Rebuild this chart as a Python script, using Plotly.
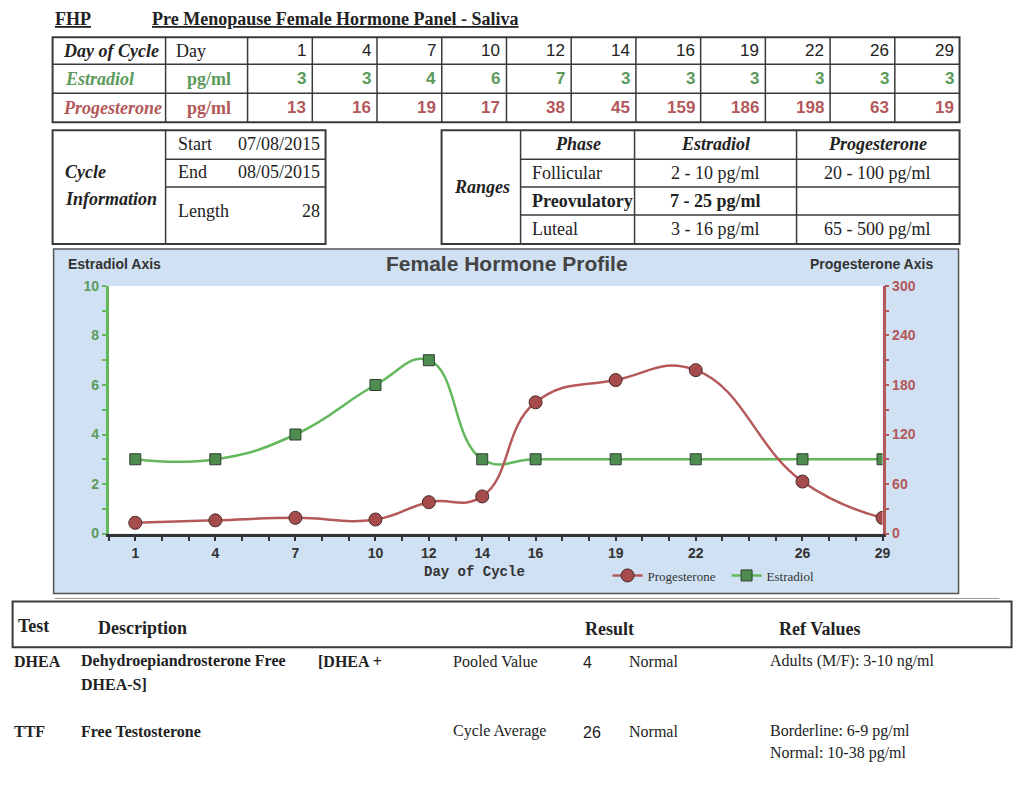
import plotly.graph_objects as go

# ---------------- data ----------------
days = [1, 4, 7, 10, 12, 14, 16, 19, 22, 26, 29]
estradiol = [3, 3, 4, 6, 7, 3, 3, 3, 3, 3, 3]
progesterone = [13, 16, 19, 17, 38, 45, 159, 186, 198, 63, 19]

cycle_start = "07/08/2015"
cycle_end = "08/05/2015"
cycle_length = 28

phases = ["Follicular", "Preovulatory", "Luteal"]
estradiol_ranges = ["2 - 10 pg/ml", "7 - 25 pg/ml", "3 - 16 pg/ml"]
progesterone_ranges = ["20 - 100 pg/ml", "", "65 - 500 pg/ml"]

test_codes = ["DHEA", "TTF"]
test_desc = ["Dehydroepiandrosterone Free", "Free Testosterone"]
test_method = ["Pooled Value", "Cycle Average"]
test_result = ["4", "26"]
test_status = ["Normal", "Normal"]
test_refs = [["Adults (M/F): 3-10 ng/ml"], ["Borderline: 6-9 pg/ml", "Normal: 10-38 pg/ml"]]

# ---------------- styles ----------------
W, H = 1024, 800
SERIF = "Liberation Serif"
SANS = "Liberation Sans"
MONO = "Liberation Mono"
GREEN_TXT = "#5b9a5b"
RED_TXT = "#b3585a"
GREEN_LINE = "#62b85a"
RED_LINE = "#b5585a"
GRID = "#3a3a3a"
PANEL = "#cfe1f2"

# layout positions are given in target-picture pixels; these factors map them to page pixels
AX, BX = 1024 / 1032, 0.4
AY, BY = 800 / 815, 6.6


def X(px):
    return ((px - BX) / AX) / W


def Y(py):
    return 1 - ((py - BY) / AY) / H


shapes = []
annotations = []


def hline(x0, x1, y, color=GRID, width=1.5):
    shapes.append(dict(type="line", xref="paper", yref="paper", x0=X(x0), x1=X(x1),
                       y0=Y(y), y1=Y(y), line=dict(color=color, width=width)))


def vline(x, y0, y1, color=GRID, width=1.5):
    shapes.append(dict(type="line", xref="paper", yref="paper", x0=X(x), x1=X(x),
                       y0=Y(y0), y1=Y(y1), line=dict(color=color, width=width)))


def rect(x0, y0, x1, y1, color=GRID, width=1.5, fill=None, layer="above"):
    d = dict(type="rect", xref="paper", yref="paper", x0=X(x0), x1=X(x1),
             y0=Y(y0), y1=Y(y1), line=dict(color=color, width=width), layer=layer)
    if fill:
        d["fillcolor"] = fill
    shapes.append(d)


def text(s, x, y, anchor="left", size=18, family=SERIF, color="#222", valign="middle"):
    annotations.append(dict(text=s, x=X(x), y=Y(y), xref="paper", yref="paper",
                            xanchor=anchor, yanchor=valign, showarrow=False,
                            font=dict(family=family, size=size, color=color)))


# ---------------- title ----------------
text("<b><u>FHP</u></b>", 53, 18, size=18)
text("<b><u>Pre Menopause Female Hormone Panel - Saliva</u></b>", 150, 18, size=18)

# ---------------- table 1 ----------------
t1_x0, t1_x1 = 53, 960
t1_rows = [36, 63, 92, 121]
col_w = (960 - 248) / len(days)
rect(t1_x0, t1_rows[0], t1_x1, t1_rows[-1], width=2)
for r in t1_rows[1:-1]:
    hline(t1_x0, t1_x1, r)
vline(166, t1_rows[0], t1_rows[-1])
vline(248, t1_rows[0], t1_rows[-1])
for k in range(1, len(days)):
    vline(248 + col_w * k, t1_rows[0], t1_rows[-1])

rc = [(t1_rows[i] + t1_rows[i + 1]) / 2 for i in range(3)]
text("<b><i>Day of Cycle</i></b>", 111, rc[0], anchor="center")
text("Day", 174, rc[0])
text("<b><i>Estradiol</i></b>", 63, rc[1], color=GREEN_TXT)
text("<b>pg/ml</b>", 209, rc[1], anchor="center", color=GREEN_TXT)
text("<b><i>Progesterone</i></b>", 61, rc[2], color=RED_TXT)
text("<b>pg/ml</b>", 209, rc[2], anchor="center", color=RED_TXT)
for k, d in enumerate(days):
    xr = 248 + col_w * (k + 1) - 4
    text(str(d), xr, rc[0], anchor="right", size=17, family=SANS, color="#222")
    text("<b>%d</b>" % estradiol[k], xr, rc[1], anchor="right", size=17, family=SANS, color=GREEN_TXT)
    text("<b>%d</b>" % progesterone[k], xr, rc[2], anchor="right", size=17, family=SANS, color=RED_TXT)

# ---------------- cycle info ----------------
rect(53, 129, 326, 243, width=2)
vline(166, 129, 243)
hline(166, 326, 158)
hline(166, 326, 186)
text("<b><i>Cycle</i></b>", 63, 171)
text("<b><i>Information</i></b>", 63, 198)
text("Start", 176, 143)
text(cycle_start, 322, 143, anchor="right")
text("End", 176, 171)
text(cycle_end, 322, 171, anchor="right")
text("Length", 176, 210)
text(str(cycle_length), 322, 210, anchor="right")

# ---------------- ranges ----------------
rect(442, 129, 960, 243, width=2)
vline(521, 129, 243)
vline(635, 129, 243)
vline(797, 129, 243)
for r in [158, 186, 214]:
    hline(521, 960, r)
text("<b><i>Ranges</i></b>", 482, 186, anchor="center")
text("<b><i>Phase</i></b>", 578, 143, anchor="center")
text("<b><i>Estradiol</i></b>", 716, 143, anchor="center")
text("<b><i>Progesterone</i></b>", 878, 143, anchor="center")
for i, ph in enumerate(phases):
    yy = 172 + 28 * i
    b0, b1 = ("<b>", "</b>") if ph == "Preovulatory" else ("", "")
    text(b0 + ph + b1, 530, yy)
    text(b0 + estradiol_ranges[i] + b1, 716, yy, anchor="center")
    if progesterone_ranges[i]:
        text(b0 + progesterone_ranges[i] + b1, 878, yy, anchor="center")

# ---------------- chart panel ----------------
rect(54, 248, 959, 593, color="#555", width=1.5, fill=PANEL, layer="below")
rect(109, 285, 883, 533, color="rgba(0,0,0,0)", width=0, fill="white", layer="below")
text("<b>Female Hormone Profile</b>", 507, 263, anchor="center", size=21, family=SANS, color="#444")
text("<b>Estradiol Axis</b>", 66, 263, size=14, family=SANS, color="#333")
text("<b>Progesterone Axis</b>", 935, 263, anchor="right", size=14, family=SANS, color="#333")
text("<b>Day of Cycle</b>", 475, 572, anchor="center", size=14, family=MONO, color="#333")

# ---------------- bottom results ----------------
hline(55, 1000, 598, color="#999", width=1)
rect(13, 601, 1012, 647, width=2)
text("<b>Test</b>", 16, 626, size=18)
text("<b>Description</b>", 96, 628, size=18)
text("<b>Result</b>", 583, 629, size=18)
text("<b>Ref Values</b>", 777, 629, size=18)

row_y = [661, 731]
for i, code in enumerate(test_codes):
    yy = row_y[i]
    text("<b>" + code + "</b>", 12, yy, size=16)
    text("<b>" + test_desc[i] + "</b>", 79, yy, size=16)
    text(test_method[i], 451, yy, size=16)
    text(test_result[i], 581, yy + 1, size=16, family=SANS)
    text(test_status[i], 627, yy, size=16)
    for j, ref in enumerate(test_refs[i]):
        text(ref, 768, yy + 22 * j, size=16)
text("<b>[DHEA +</b>", 316, 661, size=16)
text("<b>DHEA-S]</b>", 79, 684, size=16)

# ---------------- traces ----------------
fig = go.Figure()
fig.add_trace(go.Scatter(
    x=days, y=estradiol, name="Estradiol", mode="lines+markers",
    line=dict(color=GREEN_LINE, width=2.5, shape="spline", smoothing=1.3),
    marker=dict(symbol="square", size=11, color="#4f8c4f", line=dict(color="#2f3f2f", width=1)),
    legendrank=2, xaxis="x", yaxis="y"))
fig.add_trace(go.Scatter(
    x=days, y=progesterone, name="Progesterone", mode="lines+markers",
    line=dict(color=RED_LINE, width=2.5, shape="spline", smoothing=1.3),
    marker=dict(symbol="circle", size=13, color="#a64c4c", line=dict(color="#4a2a2a", width=1)),
    legendrank=1, xaxis="x", yaxis="y2"))

xt = list(range(0, 30))
xtext = ["<b>%d</b>" % d if d in days else "" for d in xt]
yt = list(range(0, 11))
ytext = ["<b>%d</b>" % v if v % 2 == 0 else "" for v in yt]
y2t = list(range(0, 301, 30))
y2text = ["<b>%d</b>" % v if v % 60 == 0 else "" for v in y2t]

fig.update_layout(
    width=W, height=H,
    margin=dict(l=0, r=0, t=0, b=0),
    paper_bgcolor="white",
    plot_bgcolor="rgba(0,0,0,0)",
    shapes=shapes,
    annotations=annotations,
    showlegend=True,
    legend=dict(orientation="h", x=X(608), y=Y(575), xanchor="left", yanchor="middle",
                bgcolor="rgba(0,0,0,0)", font=dict(family=SERIF, size=13, color="#333"),
                entrywidth=74, itemwidth=30),
    xaxis=dict(domain=[X(109), X(883)], range=[0, 29], tickmode="array", tickvals=xt,
               ticktext=xtext, ticks="outside", ticklen=5, tickwidth=1.5, tickcolor="#333",
               showline=True, linecolor="#333", linewidth=2.5, showgrid=False, zeroline=False,
               tickfont=dict(family=SANS, size=14, color="#333"), fixedrange=True,
               anchor="y"),
    yaxis=dict(domain=[Y(533), Y(285)], range=[0, 10], tickmode="array", tickvals=yt,
               ticktext=ytext, ticks="outside", ticklen=4, tickwidth=1.5, tickcolor=GREEN_LINE,
               showline=True, linecolor=GREEN_LINE, linewidth=2.5, showgrid=False, zeroline=False,
               tickfont=dict(family=SANS, size=14, color=GREEN_TXT), anchor="x"),
    yaxis2=dict(domain=[Y(533), Y(285)], range=[0, 300], overlaying="y", side="right",
                tickmode="array", tickvals=y2t, ticktext=y2text, ticks="outside", ticklen=4,
                tickwidth=1.5, tickcolor=RED_LINE, showline=True, linecolor=RED_LINE,
                linewidth=2.5, showgrid=False, zeroline=False, anchor="x",
                tickfont=dict(family=SANS, size=14, color=RED_TXT)),
)

fig.write_html(
    "out.html",
    config={"displayModeBar": False},
    post_script=("document.documentElement.style.margin='0px';"
                 "document.documentElement.style.overflow='hidden';"
                 "document.body.style.margin='0px';"
                 "document.body.style.padding='0px';"
                 "document.body.style.overflow='hidden';"),
)
